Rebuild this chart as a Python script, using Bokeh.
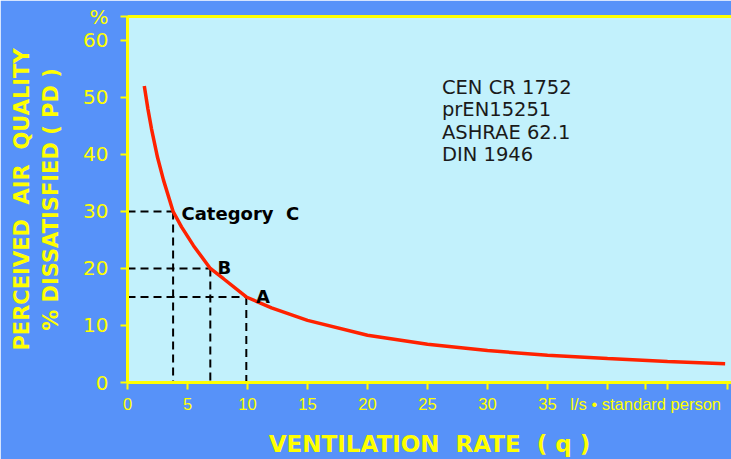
from bokeh.plotting import figure
from bokeh.models import Range1d, FixedTicker, Label, LinearAxis
from bokeh.embed import file_html
from bokeh.resources import INLINE

# ---- data ----
q_rate = [1.4, 1.7, 2.0, 2.5, 3.0, 3.8, 4.5, 5.5, 6.9, 8.0, 9.9, 12, 15, 20, 25, 30, 35, 40, 45, 49.8]
pd_dissat = [52, 48, 44.5, 39.5, 35.5, 30, 27.3, 24, 20, 18.2, 15, 13.1, 10.9, 8.3, 6.7, 5.6, 4.8, 4.2, 3.7, 3.3]

cat_names = ["Category  C", "B", "A"]
cat_q = [3.8, 6.9, 9.9]
cat_pd = [30, 20, 15]

x_ticks = [0, 5, 10, 15, 20, 25, 30, 35, 40, 45, 50]
x_tick_labels = ["0", "5", "10", "15", "20", "25", "30", "35", "", "", ""]
y_ticks = [0, 10, 20, 30, 40, 50, 60]
y_tick_labels = ["0", "10", "20", "30", "40", "50", "60"]

standards = ["CEN CR 1752", "prEN15251", "ASHRAE 62.1", "DIN 1946"]
x_unit = "l/s \u2022 standard person"
y_unit = "%"
x_title = "VENTILATION  RATE  ( q )"
y_title = "PERCEIVED  AIR  QUALITY\n% DISSATISFIED ( PD )"


def keep_spaces(s):
    return s.replace("  ", " \u00a0")


# ---- style ----
BLUE = "#5792f9"
CYAN = "#c2f1fc"
YEL = "#ffff00"
FONT = "DejaVu Sans"
X_END = 50.33
Y_END = 64.2
UNIT_POS = 43.18   # where the unit text is centred along the x axis

p = figure(width=731, height=459, output_backend="svg", toolbar_location=None,
           x_range=Range1d(0, X_END), y_range=Range1d(0, Y_END),
           min_border_left=127, min_border_right=0, min_border_top=16, min_border_bottom=77)
p.border_fill_color = BLUE
p.background_fill_color = CYAN
p.outline_line_color = None
p.grid.visible = False

for ax in (p.xaxis[0], p.yaxis[0]):
    ax.axis_line_color = YEL
    ax.axis_line_width = 3
    ax.major_tick_line_color = YEL
    ax.major_tick_line_width = 2
    ax.major_tick_in = 0
    ax.major_tick_out = 7
    ax.minor_tick_line_color = None
    ax.major_label_text_color = YEL
    ax.major_label_text_font = FONT
    ax.major_label_text_font_size = "20px"
    ax.axis_label_text_color = YEL
    ax.axis_label_text_font = FONT
    ax.axis_label_text_font_style = "bold"

# x axis: numbers, blank ticks at 40-50, unit text in the same row
labels_x = {t: s for t, s in zip(x_ticks, x_tick_labels)}
labels_x[UNIT_POS] = x_unit
p.xaxis.ticker = FixedTicker(ticks=x_ticks + [UNIT_POS])
p.xaxis.major_label_overrides = labels_x
p.xaxis.major_label_text_font = "Liberation Sans"
p.xaxis.major_label_text_font_size = "16.5px"
p.xaxis.major_label_standoff = 5
p.xaxis.axis_label = keep_spaces(x_title)
p.xaxis.axis_label_text_font_size = "23px"
p.xaxis.axis_label_standoff = 15

# y axis: "%" shown at the top end
p.yaxis.ticker = FixedTicker(ticks=y_ticks + [Y_END])
labels_y = {t: s for t, s in zip(y_ticks, y_tick_labels)}
labels_y[Y_END] = y_unit
p.yaxis.major_label_overrides = labels_y
p.yaxis.major_label_standoff = 12
p.yaxis.axis_label = keep_spaces(y_title)
p.yaxis.axis_label_text_font_size = "21px"
p.yaxis.axis_label_text_align = "center"
p.yaxis.axis_label_standoff = 17

# top border as a bare axis line
top = LinearAxis(ticker=FixedTicker(ticks=[]), axis_line_color=YEL, axis_line_width=3,
                 major_tick_line_color=None, minor_tick_line_color=None)
p.add_layout(top, "above")

# dashed guide lines for the categories
xs, ys = [], []
for q, d in zip(cat_q, cat_pd):
    xs.append([0, q]); ys.append([d, d])
    xs.append([q, q]); ys.append([d, 0])
p.multi_line(xs, ys, line_color="black", line_width=2, line_dash="8 5")

# curve
p.line(q_rate, pd_dissat, line_color="#ff2200", line_width=3.5)

# category labels
cat_lx = [4.5, 7.5, 10.7]
cat_ly = [29.7, 20.2, 15.0]
for name, lx, ly in zip(cat_names, cat_lx, cat_ly):
    p.add_layout(Label(x=lx, y=ly, text=keep_spaces(name), text_font=FONT, text_font_style="bold",
                       text_font_size="18px", text_color="black", text_baseline="alphabetic"))

# standards block
p.add_layout(Label(x=26.2, y=53.7, text="\n".join(standards), text_font=FONT,
                   text_font_size="19.5px", text_color="#1a1a1a", text_baseline="top",
                   text_line_height=0.96))

open("out.html", "w").write(file_html(p, INLINE))
